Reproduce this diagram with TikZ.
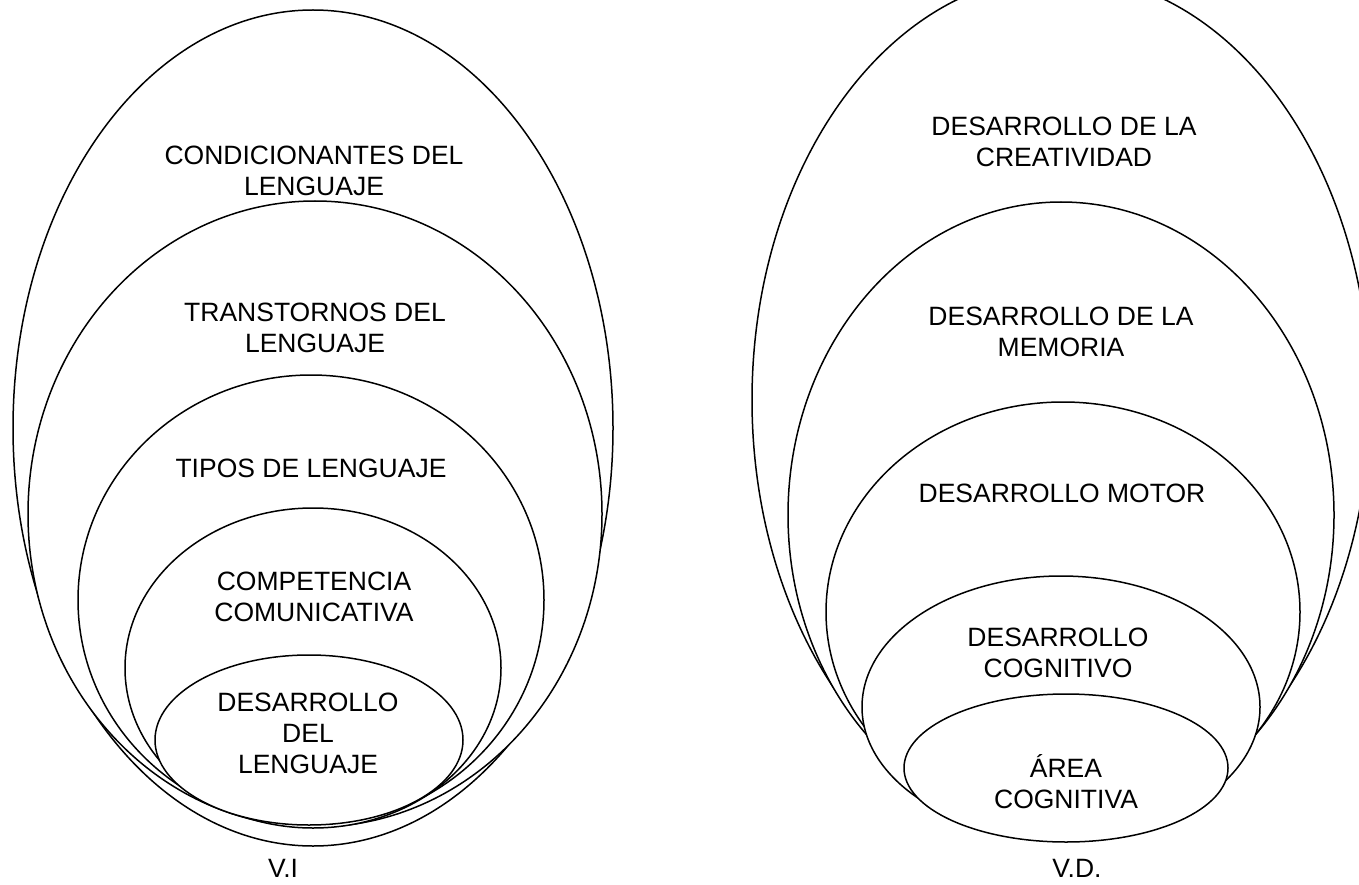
\documentclass[tikz,border=0pt]{standalone}
\usepackage{fontspec}
\setmainfont{Liberation Sans}
\tikzstyle{bubble}=[draw=black, line width=1.5pt, fill=white]
\tikzstyle{levelname}=[align=center, inner sep=0pt, font=\fontsize{26.5}{31}\selectfont]

\begin{document}
\begin{tikzpicture}[x=1pt, y=-1pt]
  \useasboundingbox (0,0) rectangle (1359,885);
  \clip (0,0) rectangle (1359,885);
  % V.I, largest first
  \draw[bubble] (313,428) ellipse [x radius=300pt, y radius=418pt];
  \draw[bubble] (315,514) ellipse [x radius=287pt, y radius=313pt];
  \draw[bubble] (311,600) ellipse [x radius=233pt, y radius=225pt];
  \draw[bubble] (313,668) ellipse [x radius=188pt, y radius=160pt];
  \draw[bubble] (309,740) ellipse [x radius=154pt, y radius=85pt];
  % V.D.
  \draw[bubble] (1061,400) ellipse [x radius=309pt, y radius=425pt];
  \draw[bubble] (1061,515) ellipse [x radius=273pt, y radius=313pt];
  \draw[bubble] (1063,612) ellipse [x radius=237pt, y radius=210pt];
  \draw[bubble] (1061,707) ellipse [x radius=199pt, y radius=131pt];
  \draw[bubble] (1066,768) ellipse [x radius=162pt, y radius=74pt];

  \node[levelname] (condicionantes) at (314,171) {CONDICIONANTES DEL\\LENGUAJE};
  \node[levelname] (trastornos) at (315,328) {TRANSTORNOS DEL\\LENGUAJE};
  \node[levelname] (tipos) at (311,468) {TIPOS DE LENGUAJE};
  \node[levelname] (competencia) at (314,597) {COMPETENCIA\\COMUNICATIVA};
  \node[levelname] (desarrollo) at (308,733) {DESARROLLO\\DEL\\LENGUAJE};
  \node[levelname] (vi) at (283,868) {V.I};

  \node[levelname] (creatividad) at (1064,142) {DESARROLLO DE LA\\CREATIVIDAD};
  \node[levelname] (memoria) at (1061,332) {DESARROLLO DE LA\\MEMORIA};
  \node[levelname] (motor) at (1062,493) {DESARROLLO MOTOR};
  \node[levelname] (cognitivo) at (1058,653) {DESARROLLO\\COGNITIVO};
  \node[levelname] (area) at (1066,782) {ÁREA\\COGNITIVA};
  \node[levelname] (vd) at (1077,868) {V.D.};
\end{tikzpicture}
\end{document}
